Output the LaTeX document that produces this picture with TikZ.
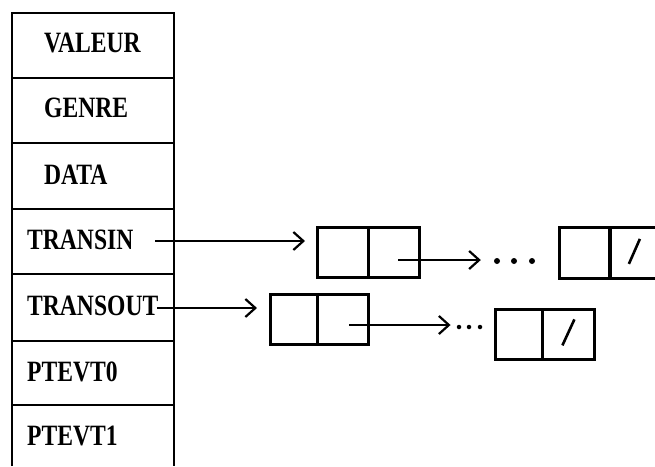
\documentclass[tikz,border=0pt]{standalone}
\usepackage{fontspec}
\setmainfont{Liberation Serif}
\usetikzlibrary{arrows.meta}
\tikzset{
  lbl/.style={anchor=west, inner sep=0pt, font=\fontsize{29.5}{29.5}\selectfont\bfseries, xscale=0.80},
  frame/.style={line width=2.8pt},
  divider/.style={line width=2pt},
  cell/.style={draw, line width=2.8pt, minimum width=51pt, minimum height=50pt, inner sep=0pt, anchor=north west},
  ptr/.style={line width=2pt, -{Straight Barb[length=10pt,width=18pt,line width=2.2pt]}},
  dot/.style={circle, fill, inner sep=0pt, minimum size=6pt},
  nilmark/.style={line width=2.6pt}
}
\begin{document}
\begin{tikzpicture}[x=1pt,y=-1pt]
\useasboundingbox (0,0) rectangle (655,466);
\clip (0,0) rectangle (655,466);
% column frame
\draw[frame] (12,466) -- (12,13) -- (174,13) -- (174,466);
\foreach \yy in {78,143,209,274,341,405} \draw[divider] (12,\yy) -- (174,\yy);
% labels
\node[lbl] (valeur) at (44,43) {VALEUR};
\node[lbl] (genre) at (44,108) {GENRE};
\node[lbl] (data) at (44,175) {DATA};
\node[lbl] (transin) at (27,240) {TRANSIN};
\node[lbl] (transout) at (27,306) {TRANSOUT};
\node[lbl] (ptevt0) at (27,372) {PTEVT0};
\node[lbl] (ptevt1) at (27,436) {PTEVT1};
% TRANSIN list
\node[cell] (a1) at (316,226) {};
\node[cell] (a2) at (367,226) {};
\node[dot] (ad1) at (497,261) {};
\node[dot] (ad2) at (514,261) {};
\node[dot] (ad3) at (532,261) {};
\node[cell, minimum height=51pt] (an1) at (558,226) {};
\node[cell, minimum height=51pt] (an2) at (608,226) {};
\coordinate (tinstart) at (155,241);
\coordinate (a2ptr) at (398,260);
\draw[ptr] (tinstart) -- ([xshift=-11pt]a1.west |- tinstart);
\draw[ptr] (a2ptr) -- ([xshift=-13pt]ad1.west |- a2ptr);
\draw[nilmark] ([shift={(-6pt,-11pt)}]an2.center) -- ([shift={(5pt,14pt)}]an2.center);
% TRANSOUT list
\node[cell, minimum width=47pt] (b1) at (269,293) {};
\node[cell] (b2) at (316,293) {};
\node[dot, minimum size=4.5pt] (bd1) at (459,327) {};
\node[dot, minimum size=4.5pt] (bd2) at (469,327) {};
\node[dot, minimum size=4.5pt] (bd3) at (480,327) {};
\node[cell, minimum width=47pt] (bn1) at (494,308) {};
\node[cell, minimum width=52pt] (bn2) at (541,308) {};
\coordinate (toutstart) at (157,308);
\coordinate (b2ptr) at (349,325);
\draw[ptr] (toutstart) -- ([xshift=-12pt]b1.west |- toutstart);
\draw[ptr] (b2ptr) -- ([xshift=-6pt]bd1.west |- b2ptr);
\draw[nilmark] ([shift={(-6pt,-11pt)}]bn2.center) -- ([shift={(6pt,15pt)}]bn2.center);
\end{tikzpicture}
\end{document}
